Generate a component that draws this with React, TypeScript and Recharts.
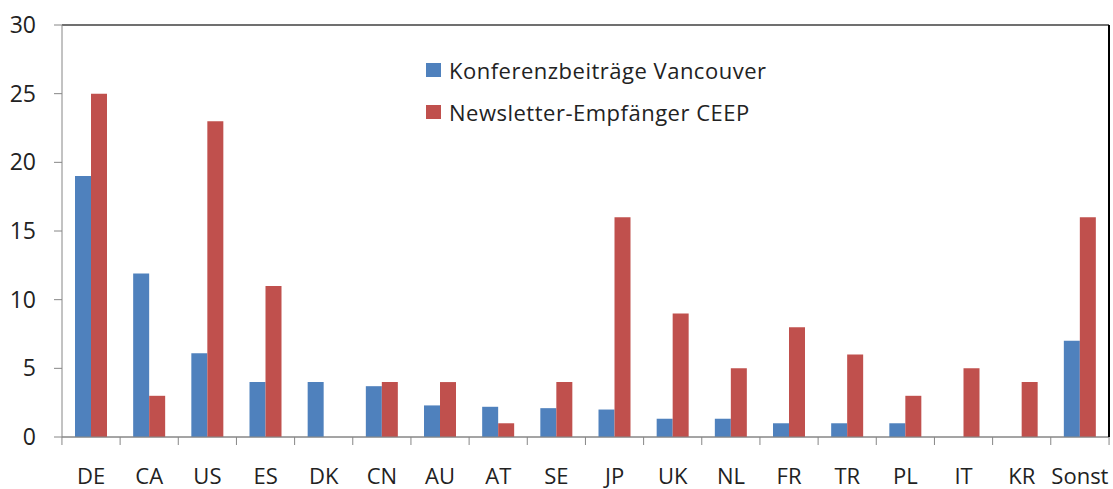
import { BarChart, Bar, XAxis, YAxis, CartesianGrid, Legend, ReferenceLine } from "recharts"

const countries = ['DE', 'CA', 'US', 'ES', 'DK', 'CN', 'AU', 'AT', 'SE', 'JP', 'UK', 'NL', 'FR', 'TR', 'PL', 'IT', 'KR', 'Sonst']
const konferenz = [19, 11.9, 6.1, 4, 4, 3.7, 2.3, 2.2, 2.1, 2, 1.33, 1.33, 1, 1, 1, 0, 0, 7]
const newsletter = [25, 3, 23, 11, 0, 4, 4, 1, 4, 16, 9, 5, 8, 6, 3, 5, 4, 16]
const yTicks = [0, 5, 10, 15, 20, 25, 30]

const seriesNames = ['Konferenzbeiträge Vancouver', 'Newsletter-Empfänger CEEP']
const colors = ['#4F81BD', '#C0504D']

const W = 1113
const H = 489
const LEFT = 62
const RIGHT = 2
const BAND = (W - LEFT - RIGHT) / countries.length
const FONT = '"Open Sans", sans-serif'

const data = countries.map((c, i) => ({ name: c, konferenz: konferenz[i], newsletter: newsletter[i] }))

const XTick = (props: any) => {
    const { x, y, payload, index } = props
    const half = BAND / 2
    return (
        <g>
            <line x1={x - half} x2={x - half} y1={y} y2={y + 8} stroke="#868686" />
            {index === countries.length - 1 &&
                <line x1={x + half} x2={x + half} y1={y} y2={y + 8} stroke="#868686" />}
            <text x={x} y={y + 47} textAnchor="middle" fontSize={22} fontFamily={FONT} fill="#222">{payload.value}</text>
        </g>
    )
}

const LegendBox = () => (
    <div style={{ fontFamily: FONT, fontSize: 22, letterSpacing: 0.5, color: '#222', textAlign: 'left' }}>
        {seriesNames.map((n, i) => (
            <div key={n} style={{ display: 'flex', alignItems: 'center', height: 42 }}>
                <span style={{ width: 15, height: 14, background: colors[i], marginRight: 8, display: 'inline-block' }} />
                <span>{n}</span>
            </div>
        ))}
    </div>
)

const App = () => {
    return (
        <div style={{ position: 'absolute', left: 0, top: 0 }}>
            <BarChart width={W} height={H} data={data} barSize={16} barGap={0}
                margin={{ top: 25, right: RIGHT, left: 0, bottom: 0 }}>
                <CartesianGrid vertical={false} stroke="#868686" />
                <XAxis dataKey="name" height={52} tickLine={false} tickSize={0} tickMargin={0}
                    axisLine={{ stroke: '#868686' }} tick={<XTick />} interval={0} />
                <YAxis yAxisId="left" width={LEFT} domain={[0, 30]} ticks={yTicks} tickSize={8} tickMargin={18}
                    axisLine={{ stroke: '#868686' }} tickLine={{ stroke: '#868686' }}
                    tick={{ fontSize: 23, fontFamily: FONT, fill: '#222' }} />
                <YAxis yAxisId="right" orientation="right" width={RIGHT} domain={[0, 30]} tick={false} tickLine={false}
                    axisLine={{ stroke: '#000', strokeWidth: 2 }} />
                <ReferenceLine yAxisId="left" y={30} stroke="#555" strokeWidth={1.5} />
                <Legend layout="horizontal" align="center" verticalAlign="middle" content={<LegendBox />}
                    wrapperStyle={{ left: 426, top: 49, width: 420 }} />
                <Bar yAxisId="left" dataKey="konferenz" name={seriesNames[0]} fill={colors[0]} isAnimationActive={false} />
                <Bar yAxisId="left" dataKey="newsletter" name={seriesNames[1]} fill={colors[1]} isAnimationActive={false} />
            </BarChart>
        </div>
    )
}

export default App
